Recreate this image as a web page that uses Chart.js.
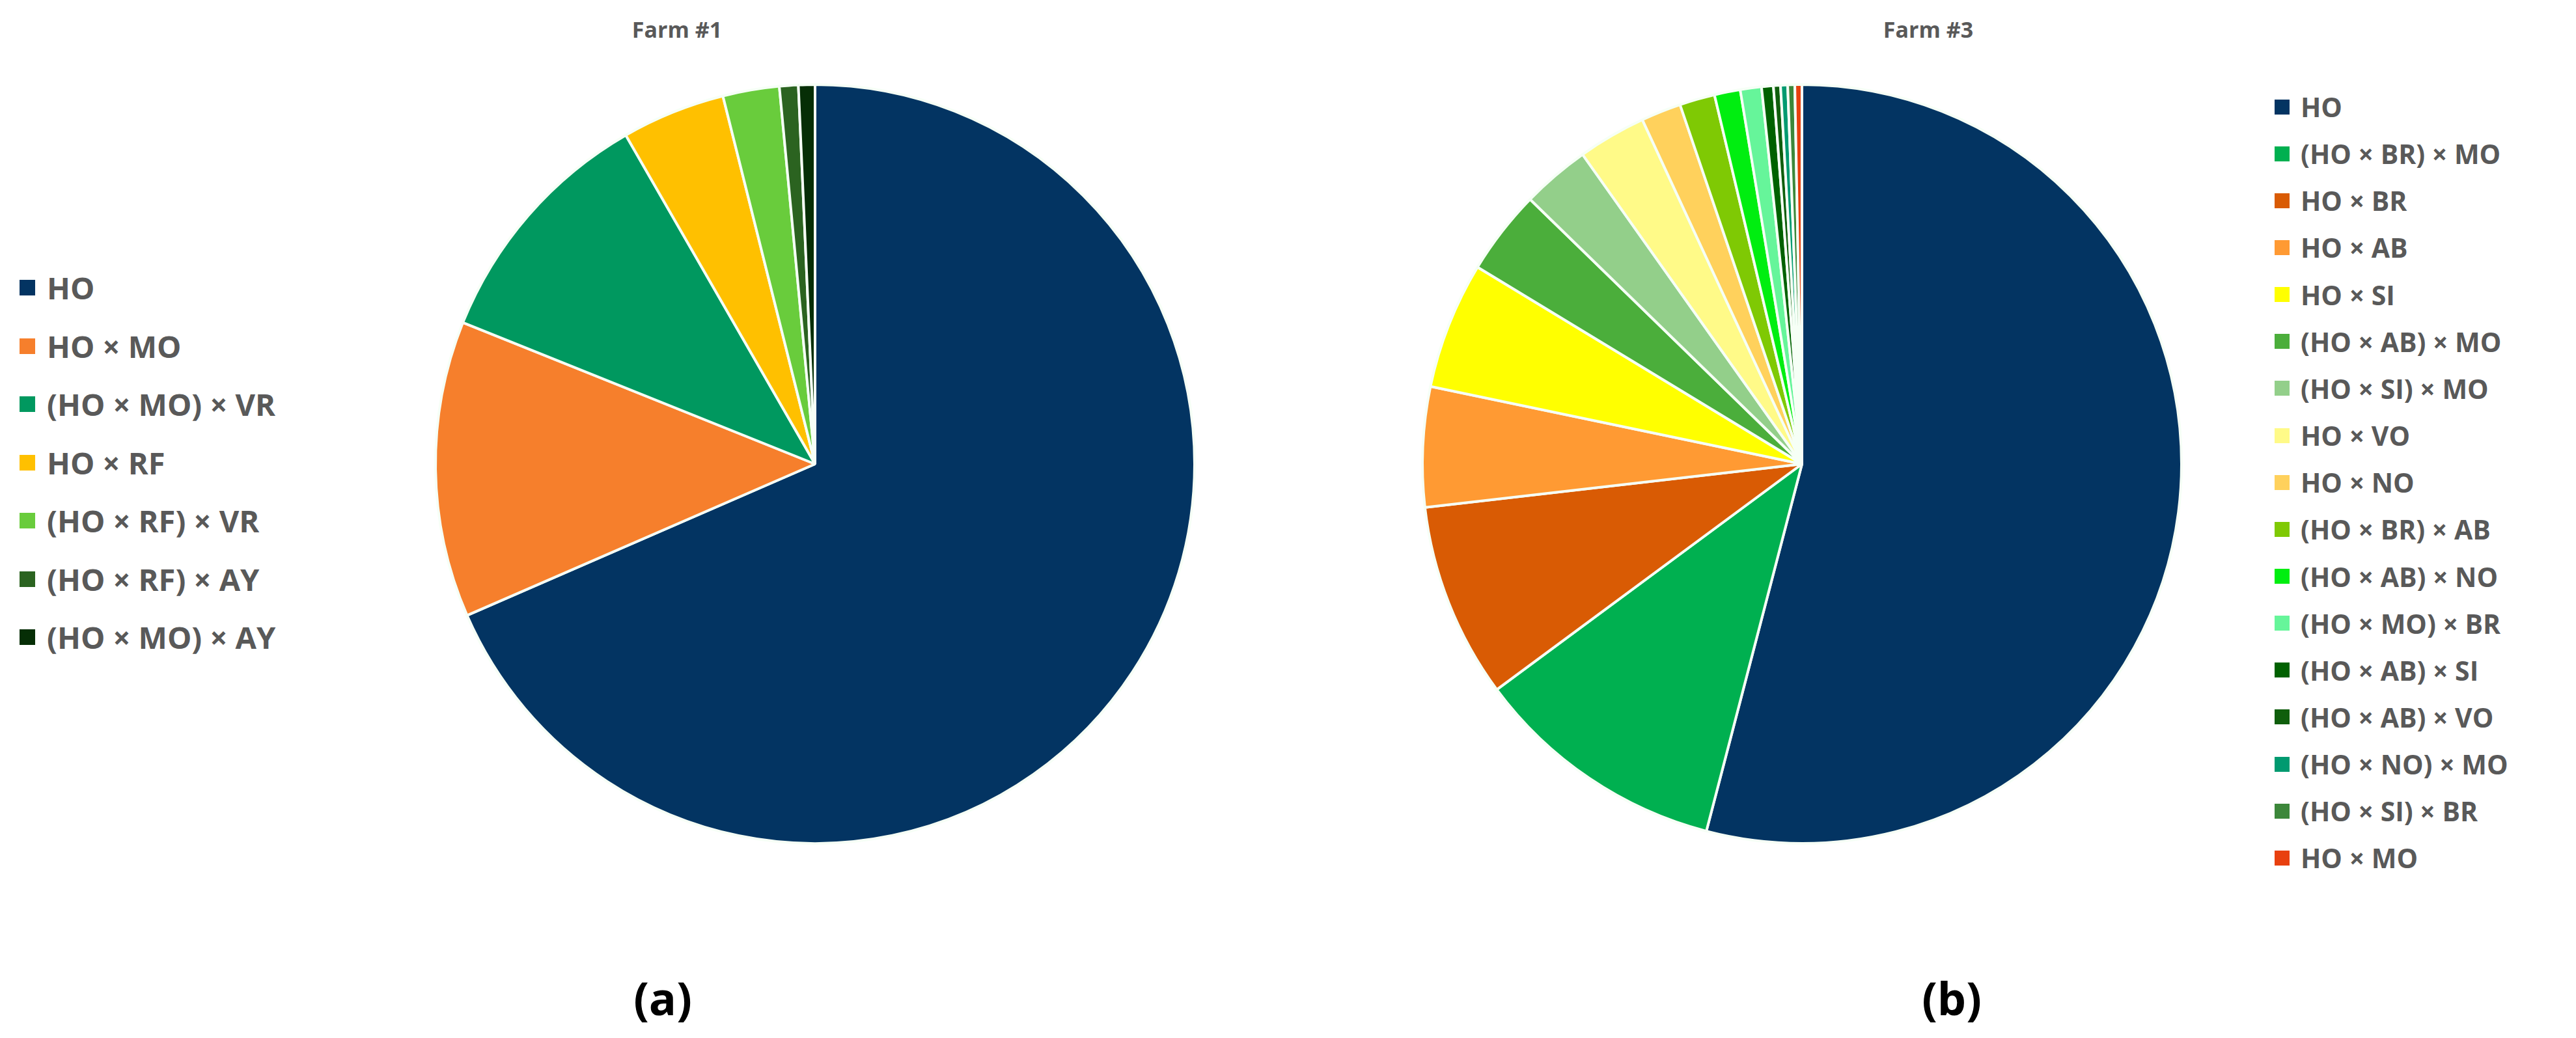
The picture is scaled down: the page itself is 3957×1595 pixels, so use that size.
<!DOCTYPE html>
<html>
<head>
<meta charset="utf-8">
<script src="https://cdn.jsdelivr.net/npm/chart.js@4.4.1/dist/chart.umd.min.js"></script>
<style>
  html, body { margin: 0; padding: 0; background: #fff; }
  body { width: 3957px; height: 1595px; position: relative; overflow: hidden; font-family: "Open Sans", sans-serif; }
  .pie { position: absolute; }
  .title { position: absolute; font-weight: 700; color: #595959; font-size: 34px; transform: translate(-50%, -50%); white-space: nowrap; }
  .tag { position: absolute; font-weight: 700; color: #000; font-size: 70px; transform: translate(-50%, -50%); white-space: nowrap; }
  .legend { position: absolute; left: 0; top: 0; color: #595959; font-weight: 700; }
  .legend .item { position: absolute; white-space: nowrap; display: flex; align-items: center; transform: translateY(-50%); }
  .legend .sw { display: inline-block; flex-shrink: 0; }
</style>
</head>
<body>
<div class="title" style="left:1040px; top:45px;">Farm #1</div>
<div class="title" style="left:2962px; top:45px;">Farm #3</div>
<canvas id="pieA" class="pie"></canvas>
<canvas id="pieB" class="pie"></canvas>
<div id="legendA" class="legend"></div>
<div id="legendB" class="legend"></div>
<div class="tag" style="left:1018px; top:1533px;">(a)</div>
<div class="tag" style="left:2998px; top:1533px;">(b)</div>

<script>
// ---- Farm #1 ----
var farm1Labels = ['HO', 'HO × MO', '(HO × MO) × VR', 'HO × RF', '(HO × RF) × VR', '(HO × RF) × AY', '(HO × MO) × AY'];
var farm1Values = [68.4, 12.6, 10.6, 4.4, 2.4, 0.8, 0.7];
var farm1Colors = ['#033462', '#F67F2C', '#00985F', '#FFC000', '#69CC3C', '#2B6320', '#062E06'];

// ---- Farm #3 ----
var farm3Labels = ['HO', '(HO × BR) × MO', 'HO × BR', 'HO × AB', 'HO × SI', '(HO × AB) × MO',
                   '(HO × SI) × MO', 'HO × VO', 'HO × NO', '(HO × BR) × AB', '(HO × AB) × NO',
                   '(HO × MO) × BR', '(HO × AB) × SI', '(HO × AB) × VO', '(HO × NO) × MO',
                   '(HO × SI) × BR', 'HO × MO'];
var farm3Values = [54.0, 10.8, 8.3, 5.1, 5.4, 3.6, 2.9, 2.9, 1.7, 1.5, 1.1, 0.9, 0.5, 0.3, 0.3, 0.3, 0.3];
var farm3Colors = ['#033462', '#00B050', '#D95B04', '#FF9A33', '#FFFF00', '#4BAE3B',
                   '#93CF8A', '#FFFA88', '#FFD15C', '#7FC904', '#00EE10',
                   '#66F59A', '#006100', '#0F5E0C', '#009A70', '#3C873A', '#E8400F'];

var PIE_R = 590;

function makePie(id, cx, cy, values, colors) {
  var cv = document.getElementById(id);
  cv.width = PIE_R * 2;
  cv.height = PIE_R * 2;
  cv.style.left = (cx - PIE_R) + 'px';
  cv.style.top = (cy - PIE_R) + 'px';
  return new Chart(cv, {
    type: 'pie',
    data: {
      labels: values.map(function(v, i) { return i; }),
      datasets: [{
        data: values,
        backgroundColor: colors,
        borderColor: '#F6FFF6',
        borderWidth: 4
      }]
    },
    options: {
      responsive: false,
      animation: false,
      devicePixelRatio: 1,
      layout: { padding: 5 },
      plugins: { legend: { display: false }, tooltip: { enabled: false } }
    }
  });
}

// legend as plain html rows, built from the same label/colour arrays
function makeLegend(id, labels, colors, x, y0, step, box, gap, fontSize) {
  var el = document.getElementById(id);
  el.innerHTML = labels.map(function(t, i) {
    return '<div class="item" style="left:' + x + 'px;top:' + (y0 + i * step) + 'px;font-size:' + fontSize + 'px;">' +
      '<span class="sw" style="width:' + box + 'px;height:' + box + 'px;background:' + colors[i] + ';margin-right:' + gap + 'px;"></span>' +
      '<span>' + t + '</span></div>';
  }).join('');
}

makePie('pieA', 1252, 713, farm1Values, farm1Colors);
makePie('pieB', 2768, 713, farm3Values, farm3Colors);
makeLegend('legendA', farm1Labels, farm1Colors, 30, 442, 89.5, 24, 18, 47);
makeLegend('legendB', farm3Labels, farm3Colors, 3494, 164, 72.15, 23, 17, 41);
</script>
</body>
</html>
